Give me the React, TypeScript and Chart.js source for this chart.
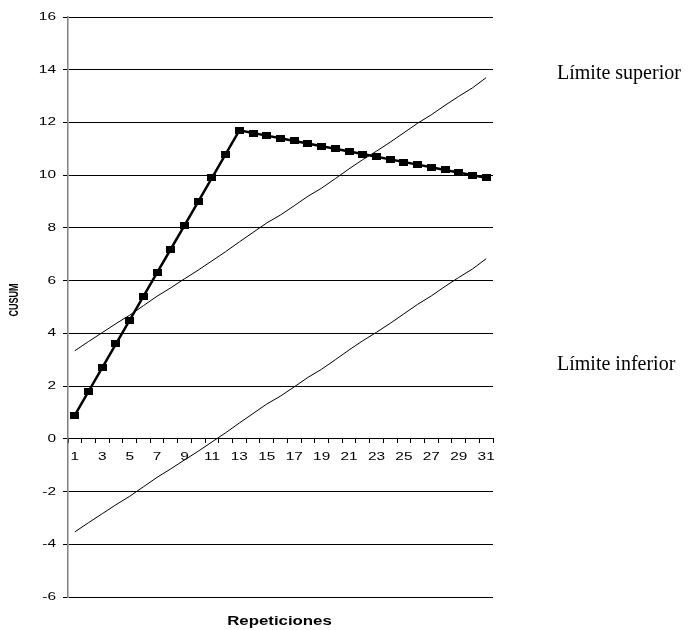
import React, { useEffect, useRef } from "react";
import { Chart, registerables } from "chart.js";

Chart.register(...registerables);

const categories: string[] = [
  "1", "2", "3", "4", "5", "6", "7", "8", "9", "10",
  "11", "12", "13", "14", "15", "16", "17", "18", "19", "20",
  "21", "22", "23", "24", "25", "26", "27", "28", "29", "30", "31",
];

const cusum: number[] = [
  0.9, 1.8, 2.7, 3.6, 4.5, 5.4, 6.3, 7.2, 8.1, 9.0,
  9.9, 10.8, 11.7, 11.6, 11.5, 11.4, 11.3, 11.2, 11.1, 11.0,
  10.9, 10.8, 10.7, 10.6, 10.5, 10.4, 10.3, 10.2, 10.1, 10.0, 9.9,
];

const upperLimit: number[] = [
  3.34, 3.69, 4.03, 4.37, 4.69, 5.05, 5.41, 5.73, 6.07, 6.4,
  6.75, 7.1, 7.47, 7.83, 8.19, 8.49, 8.84, 9.2, 9.51, 9.87,
  10.24, 10.59, 10.91, 11.25, 11.61, 11.97, 12.29, 12.65, 12.99, 13.31, 13.7,
];

const lowerLimit: number[] = [
  -3.53, -3.18, -2.84, -2.5, -2.18, -1.82, -1.46, -1.14, -0.8, -0.47,
  -0.12, 0.23, 0.6, 0.96, 1.32, 1.62, 1.97, 2.33, 2.64, 3.0,
  3.37, 3.72, 4.04, 4.38, 4.74, 5.1, 5.42, 5.78, 6.12, 6.44, 6.83,
];

const yMin = -6;
const yMax = 16;
const yStep = 2;

const xTitle = "Repeticiones";
const yTitle = "CUSUM";
const upperLabel = "Límite superior";
const lowerLabel = "Límite inferior";

const SANS = '"Liberation Sans", Arial, sans-serif';
const SERIF = '"Liberation Serif", "Times New Roman", serif';
const STRETCH = 1.4;

function installStretch(ctx: any) {
  if (ctx.__origFillText) return;
  const orig = ctx.fillText.bind(ctx);
  ctx.__origFillText = orig;
  ctx.fillText = function (text: string, x: number, y: number) {
    ctx.save();
    ctx.translate(x, y);
    ctx.scale(STRETCH, 1);
    orig(text, 0, 0);
    ctx.restore();
  };
}

function makeMarker(): HTMLCanvasElement {
  const c = document.createElement("canvas");
  c.width = 9;
  c.height = 7;
  const g = c.getContext("2d")!;
  g.fillStyle = "#000";
  g.fillRect(0, 0, 9, 7);
  return c;
}

const textPlugin = {
  id: "extraText",
  afterDraw(chart: any) {
    const ctx = chart.ctx as any;
    const orig = ctx.__origFillText || ctx.fillText.bind(ctx);
    const ca = chart.chartArea;
    ctx.save();
    ctx.fillStyle = "#000";
    // x axis title (stretched like the chart texts)
    ctx.font = `bold 12px ${SANS}`;
    ctx.textAlign = "center";
    ctx.textBaseline = "alphabetic";
    ctx.fillText(xTitle, (ca.left + ca.right) / 2 - 1, 625);
    // y axis title, rotated
    ctx.save();
    ctx.translate(15, 300);
    ctx.scale(STRETCH, 1);
    ctx.rotate(-Math.PI / 2);
    ctx.font = `bold 9px ${SANS}`;
    ctx.textAlign = "center";
    ctx.textBaseline = "middle";
    orig(yTitle, 0, 0);
    ctx.restore();
    // side labels
    ctx.font = `20px ${SERIF}`;
    ctx.textAlign = "left";
    ctx.textBaseline = "alphabetic";
    orig(upperLabel, 557, 79);
    orig(lowerLabel, 557, 370);
    ctx.restore();
  },
};

export default function App() {
  const ref = useRef<HTMLCanvasElement | null>(null);

  useEffect(() => {
    if (!ref.current) return;
    const ctx = ref.current.getContext("2d")!;
    installStretch(ctx);
    const marker = makeMarker();
    const chart = new Chart(ctx, {
      type: "line",
      data: {
        labels: categories,
        datasets: [
          {
            label: "CUSUM",
            data: cusum,
            borderColor: "#000",
            backgroundColor: "#000",
            borderWidth: 2.5,
            pointStyle: marker as any,
            pointRadius: 4,
            tension: 0,
            order: 0,
          },
          {
            label: upperLabel,
            data: upperLimit,
            borderColor: "#000",
            borderWidth: 1,
            pointRadius: 0,
            tension: 0,
            order: 1,
          },
          {
            label: lowerLabel,
            data: lowerLimit,
            borderColor: "#000",
            borderWidth: 1,
            pointRadius: 0,
            tension: 0,
            order: 2,
          },
        ],
      },
      options: {
        animation: false,
        responsive: false,
        devicePixelRatio: 1,
        layout: { padding: { top: 17, right: 200, bottom: 33, left: 0 } },
        plugins: {
          legend: { display: false },
          tooltip: { enabled: false },
        },
        scales: {
          x: {
            type: "category",
            position: { y: 0 } as any,
            offset: true,
            grid: {
              offset: true,
              drawOnChartArea: false,
              drawTicks: true,
              tickLength: 4,
              color: "#000",
            },
            border: { color: "#000", width: 1 },
            ticks: {
              autoSkip: false,
              maxRotation: 0,
              minRotation: 0,
              color: "#000",
              padding: 8,
              font: { family: SANS, size: 11 },
              callback: (_v: any, i: number) => (i % 2 === 0 ? categories[i] : ""),
            },
          },
          y: {
            min: yMin,
            max: yMax,
            ticks: {
              stepSize: yStep,
              color: "#000",
              padding: 7,
              font: { family: SANS, size: 11 },
            },
            grid: { color: "#000", lineWidth: 1, tickLength: 5, drawTicks: true },
            border: { color: "#808080", width: 1.5 },
            title: { display: false },
            afterFit: (s: any) => {
              s.width = 68;
            },
          },
        },
      },
      plugins: [textPlugin],
    });
    return () => chart.destroy();
  }, []);

  return (
    <div style={{ position: "fixed", left: 0, top: 0, width: 693, height: 630, background: "#fff" }}>
      <canvas ref={ref} width={693} height={630} style={{ display: "block" }} />
    </div>
  );
}
